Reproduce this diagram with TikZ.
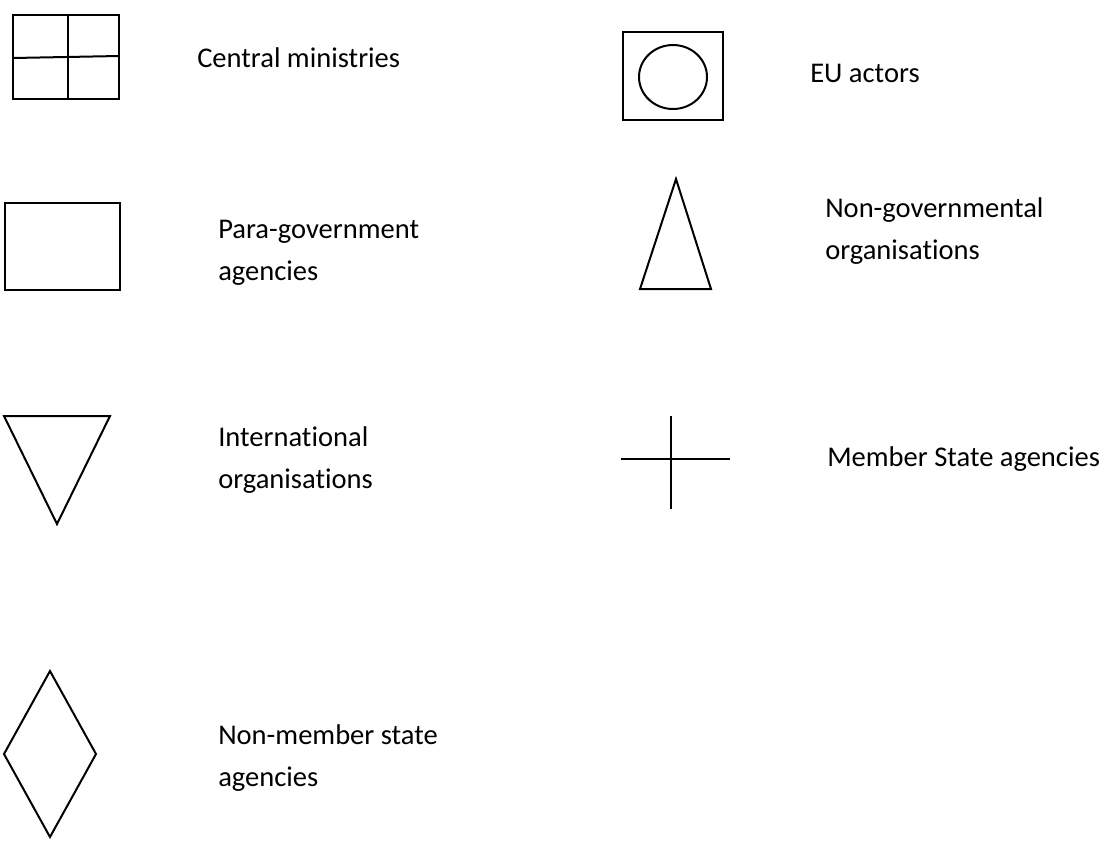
\documentclass[tikz,border=0pt]{standalone}
\usepackage{fontspec}
\setmainfont{Carlito}[Ligatures=NoCommon]
\usepackage{tikz}
\usetikzlibrary{positioning}
\tikzset{
  sym/.style ={line width=1.5pt, draw=black, line join=miter},
  lab/.style ={anchor=base west, align=left, inner sep=0pt,
               font=\fontsize{21.4pt}{31.5pt}\selectfont},
}
\begin{document}
\begin{tikzpicture}[x=0.75pt, y=-0.75pt]
  \useasboundingbox (0,0) rectangle (1112,844);
  % left column
  \draw[sym] (13,15) rectangle (119,99);
  \draw[sym] (68,15) -- (68,99);
  \draw[sym] (13,58) -- (119,56);
  \node[lab] (cmin) at (197,67) {Central ministries};
  \draw[sym] (5,203) rectangle (120,290);
  \node[lab] (para) at (218,280) {Para-government\\agencies};
  \draw[sym] (4,416) -- (110,416) -- (57,524) -- cycle;
  \node[lab] (intl) at (218,488) {International\\organisations};
  \draw[sym] (50,671) -- (96,754) -- (50,837) -- (4,754) -- cycle;
  \node[lab] (nms) at (218,786) {Non-member state\\agencies};
  % right column
  \draw[sym] (623,32) rectangle (723,120);
  \draw[sym] (673,77) ellipse [x radius=25.5pt, y radius=24pt];
  \node[lab] (eu) at (810,82) {EU actors};
  \draw[sym] (676,179) -- (711,289) -- (640,289) -- cycle;
  \node[lab] (ngo) at (825,259) {Non-governmental\\organisations};
  \draw[sym] (621,459) -- (730,459);
  \draw[sym] (671,416) -- (671,509);
  \node[lab] (msa) at (827,466) {Member State agencies};
\end{tikzpicture}
\end{document}
